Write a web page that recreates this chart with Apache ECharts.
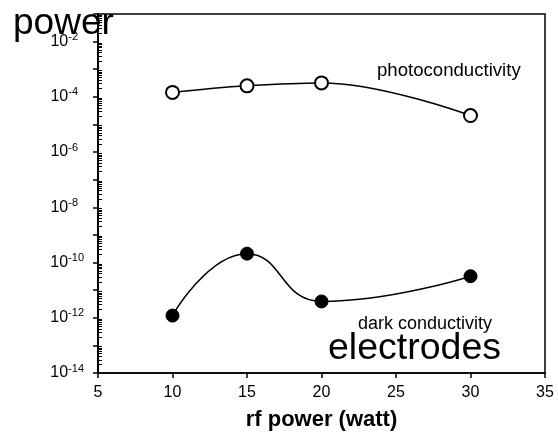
<!DOCTYPE html>
<html>
<head>
<meta charset="UTF-8">
<title>conductivity vs rf power</title>
<script src="https://cdn.jsdelivr.net/npm/echarts@6/dist/echarts.min.js"></script>
</head>
<body style="margin:0">
	<div id="main" style="width: 558px; height: 436px;"></div>
	<script type="text/javascript">
		var rfPower = [10, 15, 20, 30];
		var photoCond = [1.45e-4, 2.5e-4, 3.2e-4, 2.1e-5];
		var darkCond = [1.2e-12, 2.1e-10, 3.9e-12, 3.2e-11];
		var xTicks = [5, 10, 15, 20, 25, 30, 35];

		function pairs(xs, ys) {
			return xs.map(function (x, i) { return [x, ys[i]]; });
		}

		var font = 'Liberation Sans, Arial, sans-serif';
		var myChart = echarts.init(document.getElementById('main'));
		var option = {
			animation: false,
			grid: {
				left: 98, right: 13, top: 14, bottom: 63,
				show: true, borderColor: '#000', borderWidth: 1.5
			},
			xAxis: {
				type: 'value',
				min: xTicks[0], max: xTicks[xTicks.length - 1], interval: 5,
				name: 'rf power (watt)',
				nameLocation: 'middle',
				nameGap: 36,
				nameTextStyle: { fontFamily: font, fontSize: 22, fontWeight: 'bold', color: '#000' },
				axisLine: { lineStyle: { color: '#000', width: 1.5 } },
				axisTick: { length: 5, lineStyle: { color: '#000', width: 1.5 } },
				axisLabel: { fontFamily: font, fontSize: 16, color: '#000', margin: 12 },
				splitLine: { show: false }
			},
			yAxis: {
				type: 'log',
				logBase: 10,
				min: 1e-14, max: 1e-1,
				interval: 1,
				axisLine: { lineStyle: { color: '#000', width: 2 } },
				axisTick: { length: 5, lineStyle: { color: '#000', width: 1.5 } },
				minorTick: { show: true, splitNumber: 9, length: -4, lineStyle: { color: '#000', width: 1 } },
				axisLabel: {
					margin: 14,
					formatter: function (v) {
						var e = Math.round(Math.log10(v));
						if (e % 2 !== 0) return '';
						var key = String(e).length > 2 ? 's2' : 's1';
						return '{b|10}{' + key + '|' + e + '}';
					},
					rich: {
						b: { fontFamily: font, fontSize: 16, color: '#000' },
						s1: { fontFamily: font, fontSize: 11, color: '#000', padding: [0, 6, 9, 0] },
						s2: { fontFamily: font, fontSize: 11, color: '#000', padding: [0, 0, 9, 0] }
					}
				},
				splitLine: { show: false }
			},
			series: [{
				name: 'photoconductivity',
				type: 'line',
				smooth: 0.4,
				data: pairs(rfPower, photoCond),
				symbol: 'circle',
				symbolSize: 13,
				lineStyle: { color: '#000', width: 1.5 },
				itemStyle: { color: '#fff', borderColor: '#000', borderWidth: 2 }
			}, {
				name: 'dark conductivity',
				type: 'line',
				smooth: 0.5,
				data: pairs(rfPower, darkCond),
				symbol: 'circle',
				symbolSize: 13,
				lineStyle: { color: '#000', width: 1.5 },
				itemStyle: { color: '#000', borderColor: '#000', borderWidth: 1 }
			}],
			graphic: [
				{ type: 'text', left: 377, top: 61, style: { text: 'photoconductivity', font: '18.6px ' + font, fill: '#000' } },
				{ type: 'text', left: 358, top: 315, style: { text: 'dark conductivity', font: '18px ' + font, fill: '#000' } },
				{ type: 'text', left: 328, top: 330, style: { text: 'electrodes', font: '37.5px ' + font, fill: '#000' } },
				{ type: 'text', left: 13, top: 5, style: { text: 'power', font: '37px ' + font, fill: '#000' } }
			]
		};
		myChart.setOption(option);
	</script>
</body>
</html>
